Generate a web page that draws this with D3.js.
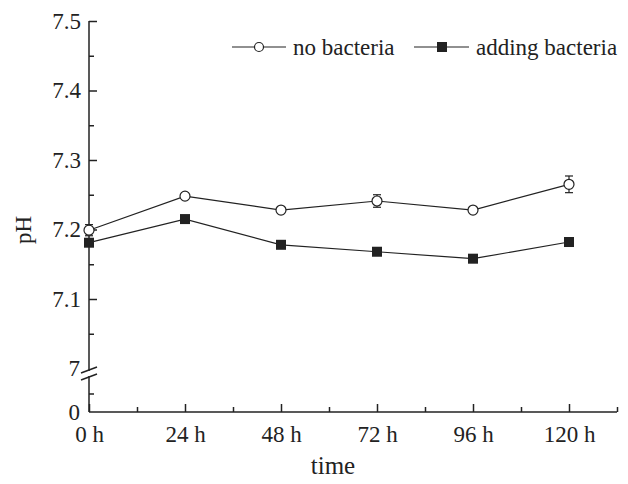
<!DOCTYPE html>
<html>
<head>
<meta charset="utf-8">
<script src="https://cdn.jsdelivr.net/npm/d3@7"></script>
<style>
  body { margin: 0; background: #fff; }
  svg { display: block; }
</style>
</head>
<body>
<svg id="chart" width="628" height="484"></svg>
<script>
// data
var hours = [0, 24, 48, 72, 96, 120];
var noBacteria = [7.199, 7.248, 7.228, 7.241, 7.228, 7.265];
var noBacteriaErr = [0.008, 0.004, 0.004, 0.009, 0.003, 0.012];
var addBacteria = [7.181, 7.215, 7.178, 7.168, 7.158, 7.182];
var yMajor = [7.1, 7.2, 7.3, 7.4, 7.5];
var yMinor = [7.05, 7.15, 7.25, 7.35, 7.45];
var xMinor = [12, 36, 60, 84, 108, 132];

var svg = d3.select('#chart');
var ink = '#222';
var serif = '"Liberation Serif", "Times New Roman", "DejaVu Serif", serif';

var x = d3.scaleLinear().domain([0, 132]).range([89, 617]);
var yUp = d3.scaleLinear().domain([7.0, 7.5]).range([368.5, 21]);
var yLow = d3.scaleLinear().domain([0, 0.1]).range([412, 375]);

// x axis (ticks inward)
var xAxis = svg.append('g').attr('transform', 'translate(0,412)')
    .call(d3.axisBottom(x).tickValues(hours).tickSize(-8).tickPadding(14)
        .tickFormat(function (d) { return d + ' h'; }));
svg.append('g').attr('transform', 'translate(0,412)')
    .call(d3.axisBottom(x).tickValues(xMinor).tickSize(-5).tickFormat(''))
    .select('.domain').remove();
xAxis.select('.domain').attr('d', 'M89,0H617');

// upper y axis
var yAxis = svg.append('g').attr('transform', 'translate(89,0)')
    .call(d3.axisLeft(yUp).tickValues(yMajor).tickSize(-8).tickPadding(8)
        .tickFormat(d3.format('.1f')));
yAxis.select('.domain').attr('d', 'M0,21V371');
svg.append('g').attr('transform', 'translate(89,0)')
    .call(d3.axisLeft(yUp).tickValues(yMinor).tickSize(-5).tickFormat(''))
    .select('.domain').remove();

// label "7" at the break
svg.append('text').attr('x', 80).attr('y', yUp(7.0)).attr('dy', '0.32em')
    .attr('text-anchor', 'end').text('7');

// lower y axis segment
var yAxisLow = svg.append('g').attr('transform', 'translate(89,0)')
    .call(d3.axisLeft(yLow).tickValues([0]).tickSize(0).tickPadding(9)
        .tickFormat(d3.format('d')));
yAxisLow.select('.domain').attr('d', 'M0,376V412');
svg.append('g').attr('transform', 'translate(89,0)')
    .call(d3.axisLeft(yLow).tickValues([0.05]).tickSize(-5).tickFormat(''))
    .select('.domain').remove();

// break marks
svg.append('line').attr('x1', 81).attr('y1', 373).attr('x2', 97).attr('y2', 367)
    .attr('stroke', ink).attr('stroke-width', 1.4);
svg.append('line').attr('x1', 81).attr('y1', 380).attr('x2', 97).attr('y2', 374)
    .attr('stroke', ink).attr('stroke-width', 1.4);

svg.selectAll('.domain, .tick line').attr('stroke', ink).attr('stroke-width', 1.5);

// axis titles
svg.append('text').attr('x', 333).attr('y', 474).attr('text-anchor', 'middle')
    .attr('class', 'title').text('time');
svg.append('text').attr('transform', 'translate(31,230) rotate(-90)')
    .attr('text-anchor', 'middle').attr('class', 'ytitle').text('pH');

var line = d3.line()
    .x(function (d, i) { return x(hours[i]); })
    .y(function (d) { return yUp(d); });

// no bacteria series
svg.append('path').datum(noBacteria).attr('d', line)
    .attr('fill', 'none').attr('stroke', ink).attr('stroke-width', 1.2);
var eb = svg.selectAll('.err').data(noBacteria).enter().append('g').attr('class', 'err');
eb.append('line')
    .attr('x1', function (d, i) { return x(hours[i]); })
    .attr('x2', function (d, i) { return x(hours[i]); })
    .attr('y1', function (d, i) { return yUp(d - noBacteriaErr[i]); })
    .attr('y2', function (d, i) { return yUp(d + noBacteriaErr[i]); })
    .attr('stroke', ink).attr('stroke-width', 1.2);
[-1, 1].forEach(function (s) {
    eb.append('line')
        .attr('x1', function (d, i) { return x(hours[i]) - 4; })
        .attr('x2', function (d, i) { return x(hours[i]) + 4; })
        .attr('y1', function (d, i) { return yUp(d + s * noBacteriaErr[i]); })
        .attr('y2', function (d, i) { return yUp(d + s * noBacteriaErr[i]); })
        .attr('stroke', ink).attr('stroke-width', 1.2);
});
svg.selectAll('.dotOpen').data(noBacteria).enter().append('circle')
    .attr('class', 'dotOpen')
    .attr('cx', function (d, i) { return x(hours[i]); })
    .attr('cy', function (d) { return yUp(d); })
    .attr('r', 5).attr('fill', '#fff').attr('stroke', ink).attr('stroke-width', 1.2);

// adding bacteria series
svg.append('path').datum(addBacteria).attr('d', line)
    .attr('fill', 'none').attr('stroke', ink).attr('stroke-width', 1.2);
svg.selectAll('.dotSq').data(addBacteria).enter().append('rect')
    .attr('class', 'dotSq')
    .attr('x', function (d, i) { return x(hours[i]) - 5; })
    .attr('y', function (d) { return yUp(d) - 5; })
    .attr('width', 10).attr('height', 10).attr('fill', ink);

// legend
var lg = svg.append('g');
lg.append('line').attr('x1', 232).attr('x2', 286).attr('y1', 47).attr('y2', 47)
    .attr('stroke', ink).attr('stroke-width', 1.2);
lg.append('circle').attr('cx', 259).attr('cy', 47).attr('r', 4.5)
    .attr('fill', '#fff').attr('stroke', ink).attr('stroke-width', 1.2);
lg.append('text').attr('x', 293).attr('y', 55).text('no bacteria');
lg.append('line').attr('x1', 414).attr('x2', 469).attr('y1', 47).attr('y2', 47)
    .attr('stroke', ink).attr('stroke-width', 1.2);
lg.append('rect').attr('x', 437).attr('y', 42).attr('width', 10).attr('height', 10).attr('fill', ink);
lg.append('text').attr('x', 476).attr('y', 55).text('adding bacteria');

// typography
svg.selectAll('text')
    .attr('font-family', null)
    .style('font-family', serif)
    .style('font-size', '23px')
    .style('fill', ink);
svg.selectAll('g').attr('font-family', null).attr('font-size', null);
svg.select('.title').style('font-size', '25px');
svg.select('.ytitle').style('font-size', '23px');
</script>
</body>
</html>
